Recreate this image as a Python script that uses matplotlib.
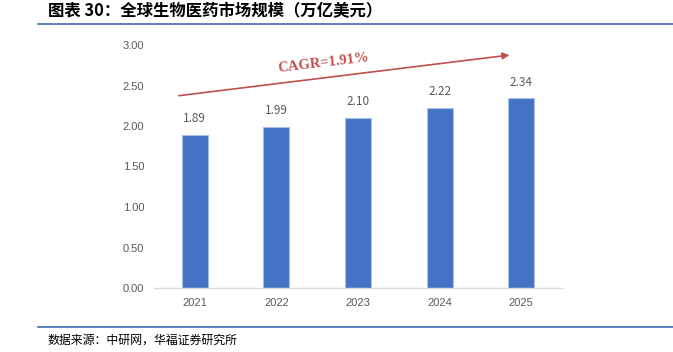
import matplotlib.pyplot as plt
import numpy as np

plt.rcParams['font.family'] = ['Noto Sans CJK SC', 'DejaVu Sans']

# data
years = ['2021', '2022', '2023', '2024', '2025']
market_size = [1.89, 1.99, 2.10, 2.22, 2.34]
yticks = [0.0, 0.5, 1.0, 1.5, 2.0, 2.5, 3.0]
title = '图表 30：全球生物医药市场规模（万亿美元）'
source = '数据来源：中研网，华福证券研究所'
cagr_text = 'CAGR=1.91%'

W, H = 673, 352
fig = plt.figure(figsize=(W / 100, H / 100), dpi=100)

# plot area in pixel coords
left, right, top, bottom = 154, 562, 45, 288
ax = fig.add_axes([left / W, 1 - bottom / H, (right - left) / W, (bottom - top) / H])

x = np.arange(len(years))
ax.bar(x, market_size, width=0.32, color='#4472C4', edgecolor='#A9C0E8', linewidth=0.8, zorder=2)
for xi, v in zip(x, market_size):
    ax.annotate(f'{v:.2f}', (xi, v), xytext=(0, 7), textcoords='offset points',
                ha='center', va='bottom', fontsize=8.5, color='#595959')

ax.set_xlim(-0.5, len(years) - 0.5)
ax.set_ylim(0, 3.0)
ax.set_xticks(x)
ax.set_xticklabels(years, fontsize=8, color='#595959', family='Liberation Sans')
ax.set_yticks(yticks)
ax.set_yticklabels([f'{t:.2f}' for t in yticks], fontsize=8, color='#595959', family='Liberation Sans')
ax.tick_params(axis='both', length=0, pad=7)
for s in ['top', 'right', 'left']:
    ax.spines[s].set_visible(False)
ax.spines['bottom'].set_color('#D9D9D9')
ax.spines['bottom'].set_linewidth(1)

# CAGR arrow
ax.annotate('', xy=(3.89, 2.88), xytext=(-0.23, 2.37),
            arrowprops=dict(arrowstyle='-|>', color='#C0504D', lw=1.2, mutation_scale=10))
ax.text(1.57, 2.78, cagr_text, fontsize=10.5, fontweight='bold', color='#C0504D',
        family='Liberation Serif', rotation=6.8, ha='center', va='center', rotation_mode='anchor')

# header and footer
fig.text(48 / W, 1 - 11 / H, title, fontsize=11.8, fontweight='bold', va='center', ha='left')
fig.add_artist(plt.Line2D([38 / W, 1], [1 - 24 / H, 1 - 24 / H], color='#3F6DB5', lw=1.2))
fig.add_artist(plt.Line2D([38 / W, 1], [1 - 327 / H, 1 - 327 / H], color='#3F6DB5', lw=1.2))
fig.text(48 / W, 1 - 340 / H, source, fontsize=8.6, va='center', ha='left')

fig.savefig('out.png', dpi=100)
